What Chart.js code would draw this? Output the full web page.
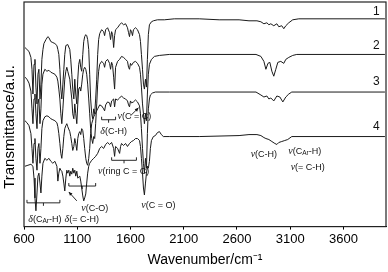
<!DOCTYPE html>
<html>
<head>
<meta charset="utf-8">
<script src="https://cdn.jsdelivr.net/npm/chart.js@4/dist/chart.umd.min.js"></script>
<style>
  html, body { margin: 0; padding: 0; background: #fff; }
  #wrap { width: 388px; height: 272px; }
</style>
</head>
<body>
<div id="wrap"><canvas id="ftir" width="388" height="272"></canvas></div>
<script>
// wavenumber (cm-1) / transmittance (a.u., offset spectra) pairs
const spectrum1 = [[609,181],[628,179],[647,177],[665,171],[675,159],[684,134],[694,164],[703,169],[712,141],[722,124],[731,154],[740,159],[750,129],[759,144],[768,169],[778,179],[787,185],[806,189],[824,192],[834,191],[852,187],[871,186],[890,185],[909,183],[918,179],[927,174],[937,159],[946,139],[955,129],[965,144],[974,159],[983,174],[993,183],[1011,184],[1030,179],[1039,169],[1049,154],[1058,139],[1068,129],[1077,149],[1086,134],[1096,124],[1105,149],[1114,164],[1124,169],[1133,161],[1142,157],[1152,174],[1161,187],[1170,192],[1180,194],[1189,193],[1198,189],[1208,179],[1217,154],[1226,129],[1236,114],[1245,109],[1255,119],[1264,114],[1273,129],[1283,149],[1292,174],[1301,189],[1311,195],[1329,199],[1348,197],[1357,193],[1367,199],[1385,201],[1404,196],[1413,189],[1423,197],[1432,194],[1442,181],[1451,193],[1460,199],[1479,201],[1498,204],[1516,206],[1535,204],[1554,205],[1572,201],[1582,196],[1591,192],[1600,199],[1610,197],[1619,193],[1628,199],[1647,201],[1666,199],[1685,194],[1694,187],[1703,174],[1713,159],[1722,144],[1731,139],[1741,149],[1750,141],[1759,169],[1768,194],[1778,204],[1797,207],[1815,208],[1853,209],[1918,209],[2012,210],[2246,210],[2433,209],[2620,209],[2713,208],[2788,208],[2825,207],[2853,205],[2881,206],[2900,204],[2918,205],[2946,203],[2975,205],[2993,202],[3021,203],[3040,200],[3059,203],[3087,206],[3124,209],[3181,210],[3990,210]];

const spectrum2 = [[609,151],[628,149],[647,145],[665,137],[675,119],[684,104],[694,129],[703,134],[712,114],[722,99],[731,124],[740,129],[750,104],[759,119],[768,144],[778,154],[796,159],[815,157],[834,158],[852,156],[871,155],[890,154],[909,151],[918,147],[927,139],[937,129],[946,114],[955,104],[965,119],[974,134],[983,149],[993,157],[1002,161],[1011,157],[1030,149],[1039,139],[1049,129],[1058,114],[1068,109],[1077,124],[1086,114],[1096,104],[1105,124],[1114,139],[1124,141],[1133,137],[1142,144],[1152,154],[1161,159],[1170,161],[1180,159],[1189,154],[1198,144],[1208,129],[1217,114],[1226,99],[1236,89],[1245,84],[1255,91],[1264,89],[1273,104],[1283,124],[1292,144],[1301,157],[1311,164],[1329,167],[1348,165],[1357,161],[1367,167],[1385,169],[1404,165],[1413,159],[1423,166],[1432,163],[1442,151],[1451,139],[1460,161],[1479,167],[1498,169],[1516,172],[1535,171],[1554,169],[1572,167],[1582,161],[1591,159],[1600,165],[1610,163],[1628,166],[1647,167],[1666,165],[1685,161],[1694,154],[1703,141],[1713,124],[1722,114],[1731,104],[1741,114],[1750,107],[1759,134],[1768,154],[1778,164],[1797,169],[1825,172],[1872,173],[1965,174],[2779,174],[2825,172],[2853,167],[2872,159],[2891,165],[2909,166],[2928,157],[2946,152],[2965,159],[2984,166],[3012,167],[3040,165],[3059,169],[3087,171],[3124,173],[3162,174],[3990,174]];

const spectrum3 = [[609,107],[628,105],[647,102],[665,94],[675,79],[684,64],[694,84],[703,89],[712,69],[722,57],[731,79],[740,84],[750,64],[759,79],[768,99],[778,107],[796,111],[815,112],[834,111],[852,109],[871,108],[890,107],[909,105],[918,101],[927,94],[937,84],[946,74],[955,69],[965,79],[974,91],[983,99],[993,102],[1002,104],[1011,101],[1030,96],[1039,91],[1049,84],[1058,77],[1068,81],[1077,89],[1086,84],[1096,77],[1105,89],[1114,94],[1124,96],[1133,93],[1142,99],[1152,97],[1161,89],[1170,79],[1180,69],[1189,64],[1198,62],[1208,69],[1217,79],[1226,94],[1236,104],[1255,111],[1273,115],[1292,119],[1311,123],[1329,122],[1348,119],[1357,117],[1367,123],[1385,126],[1404,125],[1413,121],[1423,127],[1442,129],[1451,121],[1460,129],[1479,128],[1498,130],[1516,132],[1535,130],[1554,129],[1572,127],[1582,123],[1591,121],[1600,127],[1610,125],[1628,126],[1647,128],[1666,126],[1685,122],[1694,114],[1703,99],[1713,79],[1722,64],[1731,54],[1741,69],[1750,59],[1759,94],[1768,119],[1778,129],[1787,133],[1806,135],[1834,136],[1965,136],[2779,136],[2825,133],[2853,131],[2881,132],[2900,129],[2918,130],[2946,127],[2975,132],[3003,131],[3031,126],[3059,131],[3087,134],[3115,136],[3990,136]];

const spectrum4 = [[609,61],[637,62],[665,63],[684,61],[694,49],[703,29],[712,16],[722,34],[731,51],[740,54],[750,44],[759,34],[768,51],[778,64],[796,69],[815,67],[834,69],[852,66],[871,64],[890,66],[909,61],[918,46],[927,54],[937,59],[946,57],[955,56],[965,51],[974,44],[983,36],[993,49],[1002,57],[1011,54],[1021,57],[1030,51],[1039,56],[1049,53],[1058,59],[1068,54],[1077,57],[1086,51],[1096,56],[1105,49],[1124,51],[1133,46],[1142,39],[1152,31],[1161,26],[1170,29],[1180,33],[1189,44],[1198,54],[1208,61],[1217,64],[1236,67],[1255,69],[1273,71],[1292,74],[1311,79],[1329,81],[1348,79],[1367,83],[1385,85],[1404,83],[1423,85],[1442,79],[1451,71],[1460,81],[1479,79],[1498,74],[1507,81],[1516,84],[1535,82],[1554,84],[1572,81],[1591,84],[1610,86],[1628,87],[1647,89],[1666,89],[1685,87],[1694,81],[1703,69],[1713,54],[1722,39],[1731,32],[1741,44],[1750,54],[1759,61],[1768,59],[1778,66],[1787,79],[1797,87],[1815,91],[1834,92],[1853,95],[1872,96],[1890,93],[1909,91],[1965,91],[2246,91],[2620,92],[2713,93],[2788,93],[2825,92],[2853,90],[2872,89],[2900,88],[2928,86],[2956,84],[2975,83],[2993,85],[3021,86],[3049,87],[3077,88],[3115,91],[3990,91]];

const xTicks = [600, 1100, 1600, 2100, 2600, 3100, 3600];

// curve numbers at the right edge: [label, wavenumber, transmittance]
const curveNames = [['1', 3910, 217], ['2', 3910, 183], ['3', 3910, 146], ['4', 3910, 101]];

// band assignments: [text, wavenumber, transmittance, align]
const bandNotes = [
  ['ν(C = C)', 1479, 111, 'left'],
  ['δ(C-H)', 1442, 96, 'center'],
  ['ν(ring C = C)', 1535, 56, 'center'],
  ['ν(C = O)', 1862, 21, 'center'],
  ['ν(C-O)', 1264, 18, 'center'],
  ['δ(= C-H)', 1142, 7, 'center'],
  ['δ(C_Ar-H)', 796, 7, 'center'],
  ['ν(C-H)', 2853, 73, 'center'],
  ['ν(C_Ar-H)', 3237, 76, 'center'],
  ['ν(= C-H)', 3265, 60, 'center']
];
// braces under band groups: [from wn, to wn, transmittance]
const braces = [[1329, 1460, 108], [1423, 1656, 67], [1021, 1273, 41], [628, 937, 24]];
// arrows: [from wn, from T, to wn, to T]
const arrows = [[1600, 112, 1675, 120], [1096, 26, 1021, 35]];

const SANS = '"Liberation Sans", Arial, Helvetica, sans-serif';
const SERIF = '"Liberation Serif", "Times New Roman", serif';

function drawNote(ctx, text, x, y, align) {
  // split into greek letter / subscript / plain pieces
  const parts = text.split(/(_Ar|[νδ])/).filter(s => s.length);
  const pieces = parts.map(p => {
    if (p === 'ν' || p === 'δ') return { t: p, font: 'italic 10px ' + SERIF, dy: 0 };
    if (p === '_Ar') return { t: 'Ar', font: '6.5px ' + SANS, dy: 2 };
    return { t: p, font: '9px ' + SANS, dy: 0 };
  });
  let w = 0;
  pieces.forEach(p => { ctx.font = p.font; p.w = ctx.measureText(p.t).width; w += p.w; });
  let cx = align === 'left' ? x : x - w / 2;
  ctx.textBaseline = 'middle';
  ctx.textAlign = 'left';
  pieces.forEach(p => {
    ctx.font = p.font;
    ctx.fillText(p.t, cx, y + p.dy);
    cx += p.w;
  });
}

const notesPlugin = {
  id: 'notes',
  afterDatasetsDraw(chart) {
    const { ctx, chartArea: a, scales: { x, y } } = chart;
    ctx.save();
    // frame
    ctx.strokeStyle = '#222';
    ctx.lineWidth = 1.2;
    ctx.strokeRect(a.left, a.top, a.right - a.left, a.bottom - a.top);
    ctx.fillStyle = '#111';
    ctx.strokeStyle = '#111';
    ctx.lineWidth = 0.9;
    curveNames.forEach(([t, wn, v]) => {
      ctx.font = '12px ' + SANS;
      ctx.textAlign = 'center';
      ctx.textBaseline = 'middle';
      ctx.fillText(t, x.getPixelForValue(wn), y.getPixelForValue(v));
    });
    bandNotes.forEach(([t, wn, v, al]) => drawNote(ctx, t, x.getPixelForValue(wn), y.getPixelForValue(v), al));
    braces.forEach(([w1, w2, v]) => {
      const x1 = x.getPixelForValue(w1), x2 = x.getPixelForValue(w2), py = y.getPixelForValue(v);
      const xm = (x1 + x2) / 2;
      ctx.beginPath();
      ctx.moveTo(x1, py - 3); ctx.lineTo(x1, py); ctx.lineTo(x2, py); ctx.lineTo(x2, py - 3);
      ctx.moveTo(xm, py); ctx.lineTo(xm, py + 3);
      ctx.stroke();
    });
    arrows.forEach(([w1, v1, w2, v2]) => {
      const x1 = x.getPixelForValue(w1), y1 = y.getPixelForValue(v1);
      const x2 = x.getPixelForValue(w2), y2 = y.getPixelForValue(v2);
      const ang = Math.atan2(y2 - y1, x2 - x1);
      ctx.beginPath();
      ctx.moveTo(x1, y1); ctx.lineTo(x2, y2); ctx.stroke();
      ctx.beginPath();
      ctx.moveTo(x2, y2);
      ctx.lineTo(x2 - 4 * Math.cos(ang - 0.45), y2 - 4 * Math.sin(ang - 0.45));
      ctx.lineTo(x2 - 4 * Math.cos(ang + 0.45), y2 - 4 * Math.sin(ang + 0.45));
      ctx.closePath();
      ctx.fill();
    });
    // y axis title
    ctx.translate(10, 127);
    ctx.rotate(-Math.PI / 2);
    ctx.font = '15px ' + SANS;
    ctx.textAlign = 'center';
    ctx.textBaseline = 'middle';
    ctx.fillStyle = '#000';
    ctx.fillText('Transmittance/a.u.', 0, 0);
    ctx.restore();
  }
};

const line = pts => ({
  data: pts.map(([wn, t]) => ({ x: wn, y: t })),
  borderColor: '#1a1a1a',
  borderWidth: 1,
  pointRadius: 0,
  tension: 0,
  fill: false
});

new Chart(document.getElementById('ftir'), {
  type: 'line',
  data: { datasets: [spectrum1, spectrum2, spectrum3, spectrum4].map(line) },
  options: {
    responsive: false,
    animation: false,
    devicePixelRatio: 1,
    layout: { padding: { left: 24, right: 2, top: 2, bottom: 1 } },
    plugins: { legend: { display: false }, tooltip: { enabled: false } },
    scales: {
      x: {
        type: 'linear',
        min: 600,
        max: 4000,
        afterBuildTicks: axis => { axis.ticks = xTicks.map(v => ({ value: v })); },
        ticks: { color: '#000', font: { size: 13, family: SANS }, padding: 2, maxRotation: 0, autoSkip: false, callback: v => String(v) },
        grid: { drawOnChartArea: false, tickLength: 3, color: '#000' },
        border: { color: '#000' },
        title: { display: true, text: 'Wavenumber/cm⁻¹', color: '#000', font: { size: 14, family: SANS }, padding: { top: 3, bottom: 2 } }
      },
      y: { display: false, min: 0, max: 227 }
    }
  },
  plugins: [notesPlugin]
});
</script>
</body>
</html>
